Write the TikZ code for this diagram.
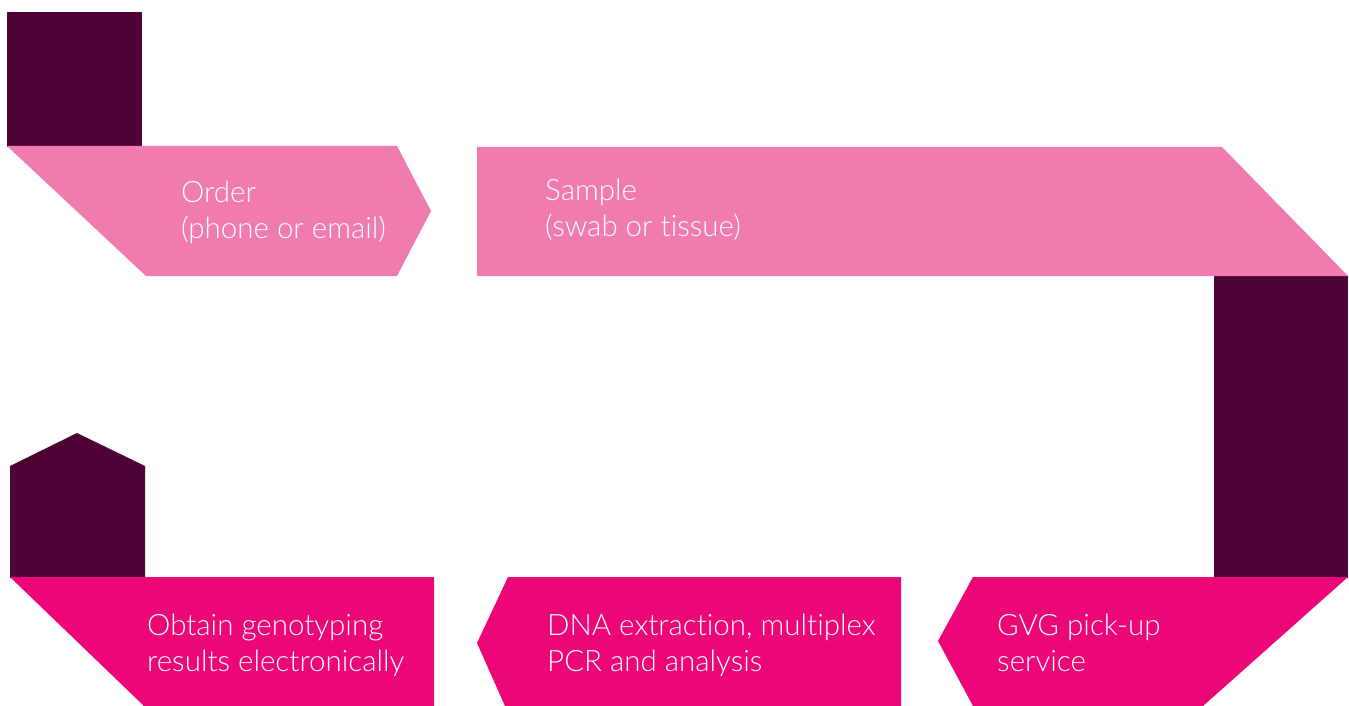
\documentclass[tikz,border=0pt]{standalone}
\usepackage{fontspec}
\setmainfont{Lato Light}[Ligatures={NoCommon}]
\definecolor{darkplum}{HTML}{4D0336}
\definecolor{lightpink}{HTML}{F07BAE}
\definecolor{magenta}{HTML}{EC0677}
\tikzset{
  px/.style={x=1pt,y=-1pt},
  label/.style={anchor=base west,inner sep=0pt,align=left,text=white,font=\fontsize{29.5}{35.5}\selectfont}
}
\begin{document}
\begin{tikzpicture}[px]
\useasboundingbox (0,0) rectangle (1349,706);
% dark connectors
\fill[darkplum] (7,12) rectangle (142,147);
\fill[darkplum] (1214,276) rectangle (1348,578);
\fill[darkplum] (10,578) -- (10,466) -- (77,433) -- (145,466) -- (145,578) -- cycle;
% top row
\fill[lightpink] (7,146) -- (397,146) -- (431,211) -- (397,276) -- (146,276) -- cycle;
\fill[lightpink] (477,147) -- (1222,147) -- (1348,276) -- (477,276) -- cycle;
% bottom row
\fill[magenta] (973,577) -- (1348,577) -- (1203,706) -- (973,706) -- (938,641) -- cycle;
\fill[magenta] (508,577) -- (901,577) -- (901,706) -- (505,706) -- (477,643) -- cycle;
\fill[magenta] (10,577) -- (434,577) -- (434,706) -- (144,706) -- cycle;
% labels (base anchor = baseline of the last line)
\node[label] (order) at (181,238) {Order\\(phone or email)};
\node[label] (sample) at (545,236) {Sample\\(swab or tissue)};
\node[label] (gvg) at (997,671) {GVG pick-up\\service};
\node[label] (dna) at (547,671) {DNA extraction, multiplex\\PCR and analysis};
\node[label] (obtain) at (147,671) {Obtain genotyping\\results electronically};
\end{tikzpicture}
\end{document}
